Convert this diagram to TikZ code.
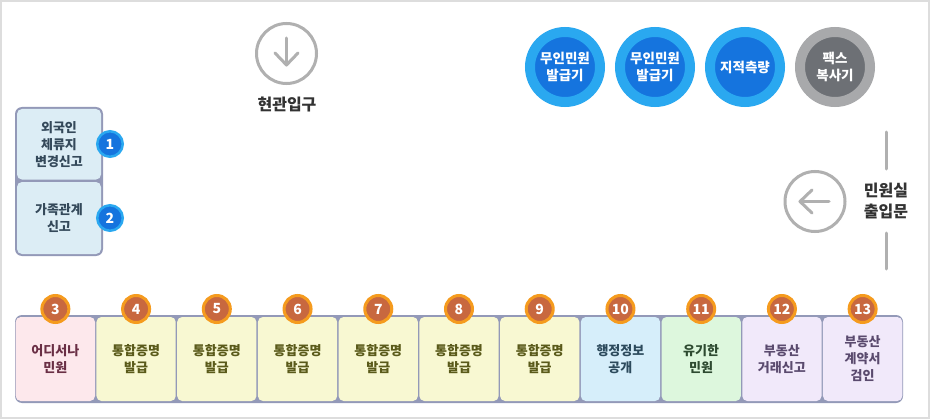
\documentclass[tikz,border=0pt]{standalone}
\usepackage{fontspec}
\setmainfont{Noto Sans CJK KR}
\usetikzlibrary{calc}
\definecolor{frame}{HTML}{DDDDDD}
\definecolor{bord}{HTML}{9399B8}
\definecolor{leftfill}{HTML}{DCEDF5}
\definecolor{lefttext}{HTML}{34495A}
\definecolor{pinkfill}{HTML}{FDE8EC}
\definecolor{pinktext}{HTML}{6A2F45}
\definecolor{yelfill}{HTML}{F8F8D2}
\definecolor{yeltext}{HTML}{5A5A1A}
\definecolor{bluefill}{HTML}{D6EEFA}
\definecolor{bluetext}{HTML}{2C4A5C}
\definecolor{grnfill}{HTML}{DDF7DD}
\definecolor{grntext}{HTML}{2D4A30}
\definecolor{lavfill}{HTML}{F1E9FA}
\definecolor{lavtext}{HTML}{5A4A6E}
\definecolor{oring}{HTML}{F59B1E}
\definecolor{oin}{HTML}{C8683F}
\definecolor{bring}{HTML}{2AA8F0}
\definecolor{bin}{HTML}{1574DE}
\definecolor{gring}{HTML}{A8A9AB}
\definecolor{gin}{HTML}{6D7075}
\definecolor{arrg}{HTML}{B0B0B0}
\definecolor{dark}{HTML}{333333}
\tikzset{
  cell/.style={rectangle, rounded corners=5pt, inner sep=0pt, align=center,
    minimum width=79.3pt, minimum height=84pt,
    font=\fontsize{13}{17}\selectfont\bfseries},
  lcell/.style={cell, fill=leftfill, text=lefttext, minimum width=84pt},
  obadge/.style={circle, fill=oin, draw=oring, line width=3pt, minimum size=27pt,
    inner sep=0pt, text=white, font=\fontsize{14}{14}\selectfont\bfseries},
  bbadge/.style={circle, fill=bin, draw=bring, line width=2.5pt, minimum size=25.5pt,
    inner sep=0pt, text=white, font=\fontsize{14}{14}\selectfont\bfseries},
  kiosk/.style={circle, fill=bin, draw=bring, line width=10pt, minimum size=70pt,
    inner sep=0pt, text=white, align=center, font=\fontsize{13.5}{17}\selectfont\bfseries},
  entc/.style={circle, draw=arrg, line width=3pt, minimum size=60pt, inner sep=0pt},
  arr/.style={draw=arrg, line width=3pt, line cap=round, line join=round},
  lbl/.style={text=dark, align=center, font=\fontsize{16}{21}\selectfont\bfseries}
}
\begin{document}
\begin{tikzpicture}[x=1pt,y=-1pt]
\useasboundingbox (0,0) rectangle (930,420);
\fill[white] (0,0) rectangle (930,420);
\draw[frame, line width=1.2pt] (1,1) rectangle (929,418);

% entrance
\node[entc] (ent) at (286.5,53.5) {};
\draw[arr] ($(ent.center)+(0,-15.5)$) -- ($(ent.center)+(0,11.5)$);
\draw[arr] ($(ent.center)+(-11.5,-0.5)$) -- ($(ent.center)+(0,11.5)$) -- ($(ent.center)+(11.5,-0.5)$);
\node[lbl] (entl) at (287,104) {현관입구};

% kiosks
\node[kiosk] (k1) at (565,67) {무인민원\\발급기};
\node[kiosk] (k2) at (655,67) {무인민원\\발급기};
\node[kiosk] (k3) at (745,67) {지적측량};
\node[kiosk, fill=gin, draw=gring] (k4) at (835,67) {팩스\\복사기};

% office door
\node[entc] (door) at (815,201.5) {};
\draw[arr] ($(door.center)+(-15,0)$) -- ($(door.center)+(14,0)$);
\draw[arr] ($(door.center)+(-3,-11.5)$) -- ($(door.center)+(-15,0)$) -- ($(door.center)+(-3,11.5)$);
\node[lbl] (doorl) at (886,201) {민원실\\출입문};
\coordinate (v1a) at (886.5,132);
\coordinate (v1b) at (886.5,169);
\coordinate (v2a) at (886.5,233);
\coordinate (v2b) at (886.5,269);
\draw[arr] (v1a) -- (v1b);
\draw[arr] (v2a) -- (v2b);

% left group
\fill[bord, rounded corners=7pt] (15,107) rectangle (103,256);
\node[lcell, minimum height=70.5pt] (c1) at (59,144.25) {외국인\\체류지\\변경신고};
\node[lcell, minimum height=72pt] (c2) at (59,218) {가족관계\\신고};
\node[bbadge] (b1) at (110,144) {1};
\node[bbadge] (b2) at (110,218) {2};

% bottom row
\fill[bord, rounded corners=7pt] (15,315) rectangle (903,403);
\def\cw{80.727}
\foreach \i/\nm/\fc/\tc/\txt in {
  0/c3/pinkfill/pinktext/{어디서나\\민원},
  1/c4/yelfill/yeltext/{통합증명\\발급},
  2/c5/yelfill/yeltext/{통합증명\\발급},
  3/c6/yelfill/yeltext/{통합증명\\발급},
  4/c7/yelfill/yeltext/{통합증명\\발급},
  5/c8/yelfill/yeltext/{통합증명\\발급},
  6/c9/yelfill/yeltext/{통합증명\\발급},
  7/c10/bluefill/bluetext/{행정정보\\공개},
  8/c11/grnfill/grntext/{유기한\\민원},
  9/c12/lavfill/lavtext/{부동산\\거래신고},
  10/c13/lavfill/lavtext/{부동산\\계약서\\검인}} {
  \node[cell, fill=\fc, text=\tc] (\nm) at ({15+\cw*(\i+0.5)},359) {\txt};
}
\foreach \i/\n in {0/3,1/4,2/5,3/6,4/7,5/8,6/9,7/10,8/11,9/12,10/13} {
  \node[obadge] (b\n) at ({15+\cw*(\i+0.5)},309) {\n};
}
\end{tikzpicture}
\end{document}
